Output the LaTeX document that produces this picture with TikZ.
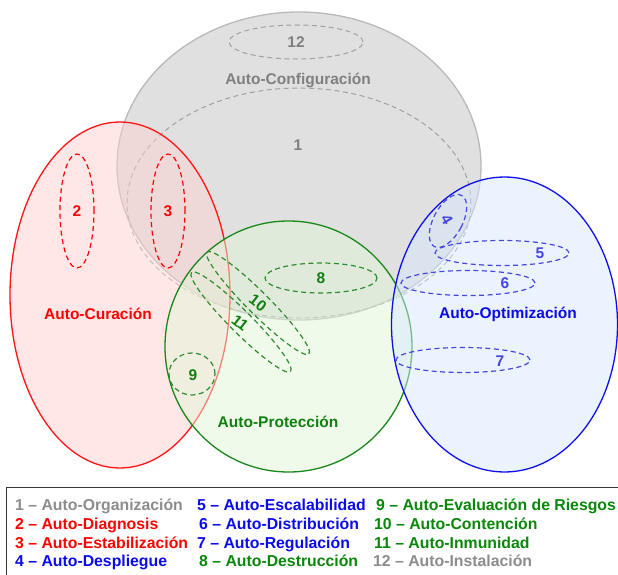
\documentclass[tikz,border=0pt]{standalone}
\usepackage{fontspec}
\setmainfont{Liberation Sans}
\usetikzlibrary{shapes.geometric}

% palette
\definecolor{cfgline}{RGB}{185,185,185}
\definecolor{cfgfill}{RGB}{193,193,193}
\definecolor{cfgtext}{RGB}{128,128,128}
\definecolor{cfgdash}{RGB}{160,160,160}
\definecolor{curline}{RGB}{255,20,20}
\definecolor{curfill}{RGB}{255,208,208}
\definecolor{curtext}{RGB}{255,0,0}
\definecolor{proline}{RGB}{25,135,25}
\definecolor{profill}{RGB}{225,245,215}
\definecolor{protext}{RGB}{15,128,15}
\definecolor{prodash}{RGB}{45,140,45}
\definecolor{optline}{RGB}{15,15,235}
\definecolor{optfill}{RGB}{215,231,255}
\definecolor{opttext}{RGB}{10,10,235}
\definecolor{optdash}{RGB}{70,70,225}
\definecolor{legline}{RGB}{55,55,55}
\definecolor{leggray}{RGB}{140,140,140}
\definecolor{legred}{RGB}{255,0,0}
\definecolor{legblue}{RGB}{10,10,240}
\definecolor{leggreen}{RGB}{10,135,10}

\tikzset{
  setshape/.style={ellipse, inner sep=0pt, outer sep=0pt, line width=1.3pt, fill opacity=0.5},
  subshape/.style={ellipse, inner sep=0pt, outer sep=0pt, line width=1.2pt, dash pattern=on 5pt off 3.5pt},
  lbl/.style={font=\bfseries\fontsize{15.5}{18}\selectfont, inner sep=0pt},
  leg/.style={font=\bfseries\fontsize{15.8}{18}\selectfont, inner sep=0pt, anchor=base west},
}

\begin{document}
\begin{tikzpicture}[x=1pt, y=-1pt]
\useasboundingbox (0,0) rectangle (618,575);
\clip (0,0) rectangle (618,575);

% Auto-Configuracion
\node[setshape, draw=cfgline, fill=cfgfill, minimum width=364pt, minimum height=308pt] (cfg) at (299,166) {};
\node[subshape, draw=cfgdash, line width=1pt, minimum width=344pt, minimum height=230pt] (s1) at (299,203) {};
\node[subshape, draw=cfgdash, line width=1pt, minimum width=134pt, minimum height=34pt] (s12) at (296,42) {};
\node[lbl, text=cfgtext] (t12) at (296,42) {12};
\node[lbl, text=cfgtext] (tcfg) at (298,80) {Auto-Configuración};
\node[lbl, text=cfgtext] (t1) at (298,145) {1};

% Auto-Curacion
\node[setshape, draw=curline, fill=curfill, minimum width=220pt, minimum height=346pt] (cur) at (120,295) {};
\node[subshape, draw=curtext, minimum width=34pt, minimum height=114pt] (s2) at (77,211) {};
\node[subshape, draw=curtext, minimum width=34pt, minimum height=114pt] (s3) at (168,211) {};
\node[lbl, text=curtext] (t2) at (77,211) {2};
\node[lbl, text=curtext] (t3) at (168,211) {3};
\node[lbl, text=curtext] (tcur) at (98,314) {Auto-Curación};

% Auto-Proteccion
\node[setshape, draw=proline, fill=profill, minimum width=247pt, minimum height=251pt] (pro) at (288.5,346.5) {};
\node[subshape, draw=prodash, minimum width=112pt, minimum height=30pt] (s8) at (321,278) {};
\node[subshape, draw=prodash, minimum width=46pt, minimum height=42pt] (s9) at (192,374) {};
\node[subshape, draw=prodash, minimum width=144pt, minimum height=22pt, rotate=-45] (s10) at (258,303) {};
\node[subshape, draw=prodash, minimum width=140pt, minimum height=22pt, rotate=-45] (s11) at (241,322) {};
\node[lbl, text=protext] (t8) at (321,278) {8};
\node[lbl, text=protext] (t9) at (193,375) {9};
\node[lbl, text=protext, rotate=-38] (t10) at (258,303) {10};
\node[lbl, text=protext, rotate=-38] (t11) at (240,323) {11};
\node[lbl, text=protext] (tpro) at (278,422) {Auto-Protección};

% Auto-Optimizacion
\node[setshape, draw=optline, fill=optfill, minimum width=226pt, minimum height=295pt] (opt) at (504.5,324.5) {};
\node[subshape, draw=optdash, minimum width=29pt, minimum height=58pt, rotate=-28] (s4) at (448,221) {};
\node[subshape, draw=optdash, minimum width=134pt, minimum height=25pt] (s5) at (502,253) {};
\node[subshape, draw=optdash, minimum width=134pt, minimum height=25pt] (s6) at (468,283) {};
\node[subshape, draw=optdash, minimum width=134pt, minimum height=25pt] (s7) at (463,360) {};
\node[lbl, text=optdash, rotate=-60] (t4) at (447,220) {4};
\node[lbl, text=optdash] (t5) at (540,253) {5};
\node[lbl, text=optdash] (t6) at (505,283) {6};
\node[lbl, text=optdash] (t7) at (500,361) {7};
\node[lbl, text=opttext] (topt) at (508,314) {Auto-Optimización};

% legend
\node[draw=legline, line width=1.4pt, fill=white, minimum width=640pt, minimum height=120pt, anchor=north west, inner sep=0pt] (legbox) at (6,487) {};
\node[leg, text=leggray]  (l1)  at (15,510.5)  {1 \textendash{} Auto-Organización};
\node[leg, text=legred]   (l2)  at (15,529)    {2 \textendash{} Auto-Diagnosis};
\node[leg, text=legred]   (l3)  at (15,548)    {3 \textendash{} Auto-Estabilización};
\node[leg, text=legblue]  (l4)  at (15,566.5)  {4 \textendash{} Auto-Despliegue};
\node[leg, text=legblue]  (l5)  at (197,510.5) {5 \textendash{} Auto-Escalabilidad};
\node[leg, text=legblue]  (l6)  at (199,529)   {6 \textendash{} Auto-Distribución};
\node[leg, text=legblue]  (l7)  at (197,548)   {7 \textendash{} Auto-Regulación};
\node[leg, text=leggreen] (l8)  at (199,566.5) {8 \textendash{} Auto-Destrucción};
\node[leg, text=leggreen] (l9)  at (376,510.5) {9 \textendash{} Auto-Evaluación de Riesgos};
\node[leg, text=leggreen] (l10) at (374,529)   {10 \textendash{} Auto-Contención};
\node[leg, text=leggreen] (l11) at (374,548)   {11 \textendash{} Auto-Inmunidad};
\node[leg, text=leggray]  (l12) at (373,566.5) {12 \textendash{} Auto-Instalación};
\end{tikzpicture}
\end{document}
